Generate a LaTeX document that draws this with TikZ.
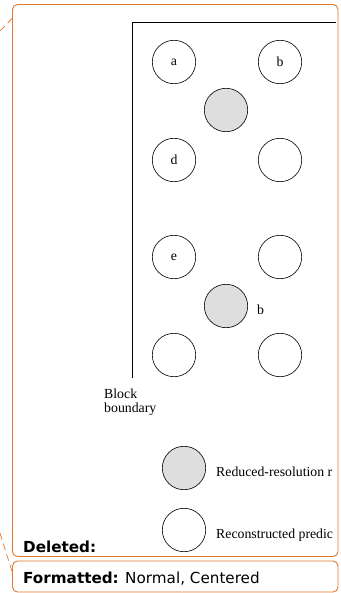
\documentclass[tikz,border=0pt]{standalone}
\usepackage{fontspec}
\setmainfont{Liberation Serif}
\newfontfamily\balloonfont{DejaVu Sans}
\usetikzlibrary{positioning}
\definecolor{balloon}{RGB}{226,118,44}
\tikzset{
  site/.style={circle, draw, line width=0.6pt, minimum size=43.4pt, inner sep=0pt, font=\fontsize{13.8}{15}\selectfont},
  lowres/.style={site, fill=black!13},
  lbl/.style={inner sep=0pt, anchor=base west, font=\fontsize{13.8}{15}\selectfont},
  box/.style={draw=balloon, rounded corners=5pt, line width=0.9pt},
  lead/.style={draw=balloon, line width=0.7pt, dash pattern=on 7pt off 4pt},
  note/.style={inner sep=0pt, anchor=base west, font=\balloonfont\fontsize{15.2}{17}\selectfont}
}
\begin{document}
\begin{tikzpicture}[x=1pt,y=-1pt]
\useasboundingbox (0,0) rectangle (340,593);

% comment balloons
\draw[box] (12.5,4.5) rectangle (338,556.5);
\draw[box] (12.5,561) rectangle (338,592);
\draw[lead] (0,31) -- (12.5,18);
\draw[lead] (0,533) -- (12.5,573);

% block boundary
\coordinate (corner) at (132.7,22);
\draw[line width=0.6pt] (132.7,378) -- (corner) -- (336,22);
\node[lbl] (blk) at (104,398) {Block};
\node[lbl, below=4.5pt of blk.south west, anchor=north west] {boundary};

% upper group
\node[site] (a) at (174,62) {a};
\node[site] (b) at (280,62) {b};
\node[lowres] (m1) at (226,110) {};
\node[site] (d) at (174,160) {d};
\node[site] (c) at (280,160) {};

% lower group
\node[site] (e) at (174,257) {e};
\node[site] (f) at (280,257) {};
\node[lowres] (m2) at (226,306) {};
\node[lbl, right=9pt of m2.east, anchor=west, yshift=-4pt] {b};
\node[site] (g) at (174,355) {};
\node[site] (h) at (280,355) {};

% legend
\node[lowres] (k1) at (184,468) {};
\node[lbl] at (216,476) {Reduced-resolution r};
\node[site] (k2) at (184,530) {};
\node[lbl] at (216,538) {Reconstructed predic};

\node[note] at (23,552) {\bfseries Deleted:};
\node[note] at (23,583) {\textbf{Formatted:} Normal, Centered};
\end{tikzpicture}
\end{document}
